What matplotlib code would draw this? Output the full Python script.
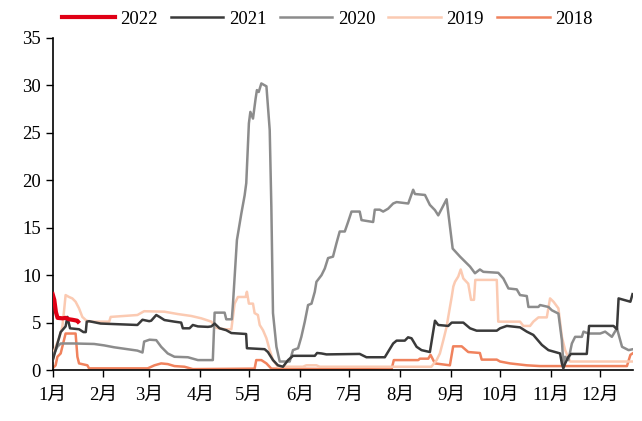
import matplotlib
matplotlib.use('Agg')
import matplotlib.pyplot as plt

plt.rcParams['font.family'] = ['Liberation Serif', 'Noto Sans CJK SC']

# x = day of year, y = value
days_2022 = [0, 1, 2, 3, 6, 8, 10, 12, 15, 15.5]
vals_2022 = [8.0, 7.4, 6.1, 5.5, 5.45, 5.5, 5.35, 5.3, 5.2, 5.1]

days_2021 = [0, 1.8, 4.9, 7.9, 9, 10.6, 16.1, 18.8, 20.2, 20.8, 22.2, 29.3, 51.7, 54.8, 58.9,
             60.1, 63.2, 65.2, 68.2, 74.3, 78.4, 79.4, 83.5, 85.5, 88.6, 94.7, 96.8, 98.8,
             101.8, 105.9, 109, 118, 118.5, 129.3, 131.3, 134.4, 137.4, 140.5, 143.6, 146.6,
             159.9, 161.3, 164, 167, 187.3, 191.4, 202.6, 207.7, 209.8, 214.8, 216.8, 218.9,
             222, 225, 230.1, 233.2, 235.2, 241.3, 243.4, 250.5, 254.6, 258.6, 270.9, 272.9,
             277, 285.1, 289.2, 293.2, 298.4, 302.4, 306.5, 309.5, 310.6, 311.5, 312.6, 314.6,
             316.2, 325.8, 327.2, 342.1, 344.2, 345.2, 352.4, 353.7]
vals_2021 = [1.0, 2.1, 4.0, 4.6, 5.6, 4.4, 4.3, 4.0, 4.0, 5.1, 5.15, 4.9, 4.75, 5.3, 5.15,
             5.2, 5.8, 5.6, 5.27, 5.1, 5.0, 4.4, 4.4, 4.75, 4.6, 4.55, 4.6, 4.9,
             4.4, 4.2, 3.9, 3.8, 2.3, 2.2, 1.9, 1.05, 0.5, 0.35, 1.05, 1.5,
             1.5, 1.8, 1.75, 1.65, 1.7, 1.35, 1.35, 2.8, 3.1, 3.1, 3.45, 3.35,
             2.45, 2.1, 1.9, 5.2, 4.75, 4.65, 5.0, 5.0, 4.4, 4.15, 4.15, 4.4,
             4.65, 4.5, 4.05, 3.7, 2.65, 2.1, 1.9, 1.75, 0.7, 0.18, 0.7, 1.4,
             1.7, 1.7, 4.65, 4.65, 4.3, 7.55, 7.2, 8.0]

days_2020 = [0, 0.9, 2.9, 4.9, 13.1, 25.3, 31.4, 37.5, 45.6, 51.7, 54.8, 55.8, 59.1, 63.2,
             66.2, 70.2, 74.3, 82.5, 88.6, 97.7, 98.8, 104.9, 105.9, 109.3, 110, 112.4,
             115.1, 117.1, 118.1, 119.7, 120.6, 122.2, 123.8, 124.6, 125.7, 127.3, 130.4,
             132.4, 133.4, 134.4, 136.5, 138.5, 144.6, 146.6, 149.7, 151.7, 153.8, 155.8,
             157.9, 159.9, 160.9, 164, 166, 168, 171, 173.1, 175.1, 178.2, 180.2, 182.3,
             187.3, 188.4, 195.5, 196.5, 199.5, 201.6, 204.6, 207.7, 209.8, 216.9, 219.9,
             221, 227.1, 230.1, 233.2, 235.2, 240.3, 244, 248.5, 254.6, 257.6, 260.6, 262.7,
             271.8, 274.9, 278, 283.1, 285.1, 289.2, 290.2, 296.3, 297.3, 302.4, 304.5,
             308.5, 310.6, 311.5, 312.6, 314.6, 316.7, 318.7, 322.8, 323.8, 326.8, 334,
             337, 341.1, 344.2, 347.3, 351.3, 354]
vals_2020 = [1.05, 1.75, 2.45, 2.8, 2.8, 2.75, 2.6, 2.4, 2.2, 2.05, 1.85, 3.0, 3.2, 3.15,
             2.45, 1.75, 1.4, 1.35, 1.05, 1.05, 6.05, 6.05, 5.35, 5.35, 7.0, 13.7,
             16.5, 18.4, 19.7, 26.0, 27.2, 26.5, 28.6, 29.5, 29.3, 30.2, 29.9,
             25.3, 17.2, 6.0, 2.45, 0.9, 0.9, 2.1, 2.3, 3.5, 5.1, 6.85,
             7.0, 8.25, 9.3, 10.0, 10.7, 11.8, 11.95, 13.35, 14.6, 14.6, 15.6, 16.7,
             16.7, 15.8, 15.6, 16.9, 16.9, 16.7, 17.0, 17.55, 17.7, 17.55, 19.0,
             18.55, 18.45, 17.4, 16.85, 16.3, 18.0, 12.8, 11.95, 10.9, 10.2, 10.6, 10.35,
             10.25, 9.65, 8.6, 8.5, 7.9, 7.8, 6.65, 6.65, 6.85, 6.65, 6.3,
             5.95, 3.15, 0.7, 1.4, 1.05, 2.8, 3.5, 3.5, 4.05, 3.85, 3.85,
             4.05, 3.5, 4.4, 2.45, 2.1, 2.2]

days_2019 = [0, 1.8, 3.9, 5.9, 7, 7.9, 10, 12, 14, 16.1, 18.1, 20.2, 22.2, 34.5, 35.4, 51.7,
             55.8, 68.2, 76.4, 84.5, 90.7, 96.8, 99.8, 104.9, 109, 111, 113, 117.7, 118.5,
             119.7, 122.2, 123.2, 125.2, 126.3, 128.3, 130.4, 132.4, 134.4, 137.4, 152.7,
             154.7, 160.9, 162.9, 231, 234.2, 236.2, 238.3, 240.3, 241.3, 243.4, 244.4,
             245.4, 247.4, 248.9, 250.5, 253.5, 255.2, 257, 257.8, 270.9, 271.8, 285.1,
             287.1, 291.2, 293.2, 296.3, 301.4, 303.4, 305.5, 308.5, 310.6, 312.6, 315.6, 354]
vals_2019 = [1.6, 2.45, 3.35, 4.55, 6.3, 7.9, 7.7, 7.55, 7.2, 6.5, 5.6, 5.27, 5.1, 5.1, 5.6, 5.8,
             6.2, 6.15, 5.9, 5.7, 5.45, 5.1, 4.45, 4.3, 4.3, 7.0, 7.7, 7.7, 8.25,
             7.0, 7.0, 6.0, 5.8, 4.75, 4.2, 3.35, 2.1, 1.05, 0.35, 0.35,
             0.5, 0.5, 0.35, 0.35, 1.05, 1.75, 3.15, 4.55, 5.6, 7.7, 8.8,
             9.3, 9.85, 10.6, 9.65, 9.1, 7.4, 7.4, 9.5, 9.5, 5.1, 5.1,
             4.65, 4.65, 5.1, 5.55, 5.55, 7.55, 7.2, 6.5, 3.5, 2.1, 0.9, 0.9]

days_2018 = [0, 1.8, 2.9, 4.9, 7.9, 14, 15.1, 16.1, 21.2, 22.2, 58, 62.1, 66.2, 70.2, 74.3,
             80.4, 85.5, 123.2, 124.2, 127.3, 130.4, 133.4, 206.7, 208.1, 223, 224, 229.1,
             230.5, 233.2, 242.3, 244.3, 249.5, 253.5, 260.6, 261.7, 270.9, 272.9, 279,
             289.2, 297.3, 350.3, 352.4, 353.7]
vals_2018 = [0.18, 0.5, 1.4, 1.75, 3.85, 3.85, 1.4, 0.7, 0.5, 0.18, 0.18, 0.5, 0.7, 0.63, 0.42,
             0.35, 0.1, 0.15, 1.05, 1.05, 0.7, 0.15, 0.07, 1.05, 1.05, 1.2, 1.2,
             1.6, 0.7, 0.5, 2.5, 2.5, 1.9, 1.8, 1.1, 1.1, 0.9, 0.7,
             0.5, 0.42, 0.42, 1.6, 1.75]

month_starts = [0, 31, 59, 90, 120, 151, 181, 212, 243, 273, 304, 334]
month_labels = ['1月', '2月', '3月', '4月', '5月', '6月', '7月', '8月', '9月', '10月', '11月', '12月']

fig = plt.figure(figsize=(6.42, 4.21), dpi=100)
ax = fig.add_axes([0.082, 0.121, 0.904, 0.789])

ax.plot(days_2018, vals_2018, color='#f0825d', lw=1.8, label='2018', zorder=2)
ax.plot(days_2019, vals_2019, color='#fbcab2', lw=1.8, label='2019', zorder=3)
ax.plot(days_2020, vals_2020, color='#8c8c8c', lw=1.8, label='2020', zorder=4)
ax.plot(days_2021, vals_2021, color='#3a3a3a', lw=1.8, label='2021', zorder=5)
ax.plot(days_2022, vals_2022, color='#e00015', lw=3, label='2022', zorder=6)

ax.set_xlim(0, 354)
ax.set_ylim(0, 35)
ax.set_yticks(range(0, 36, 5))
ax.set_xticks(month_starts)
ax.set_xticklabels(month_labels)
ax.tick_params(axis='both', labelsize=13.5, length=5, width=1, direction='out', colors='black')
ax.tick_params(axis='x', pad=7)
for s in ['top', 'right']:
    ax.spines[s].set_visible(False)
for s in ['left', 'bottom']:
    ax.spines[s].set_linewidth(1.2)

h, l = ax.get_legend_handles_labels()
fig.legend(h[::-1], l[::-1], loc='upper center', bbox_to_anchor=(0.51, 1.015), ncol=5,
           frameon=False, fontsize=13.5, handlelength=2.8, handletextpad=0.3, columnspacing=0.7)

fig.savefig('out.png', dpi=100)
